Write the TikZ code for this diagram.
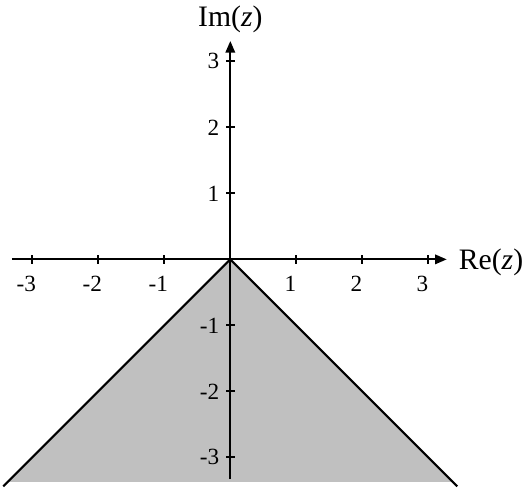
\documentclass[tikz,border=0pt]{standalone}
\usepackage{fontspec}
\setmainfont{Liberation Serif}
\usepackage{tikz}
\usetikzlibrary{arrows.meta}
\definecolor{relleno}{HTML}{C0C0C0}
\tikzset{
  axis/.style={-{Triangle[length=5pt,width=4pt]},line width=0.9pt,draw=black},
  tick/.style={line width=0.8pt,draw=black},
  edge/.style={line width=0.9pt,draw=black},
  ticklabel/.style={font=\fontsize{10}{11}\selectfont,inner sep=0pt},
  axislabel/.style={font=\fontsize{12.8}{15}\selectfont,inner sep=1pt}
}
\begin{document}
\begin{tikzpicture}[x=1cm,y=1cm]
\useasboundingbox (-3.49,-3.45) rectangle (4.45,3.93);

\fill[relleno] (0,0) -- (-3.37,-3.37) -- (3.37,-3.37) -- cycle;
\coordinate (o) at (0,0);
\coordinate (bl) at (-3.44,-3.44);
\coordinate (br) at (3.44,-3.44);
\draw[edge] (bl) -- (o) -- (br);

\draw[axis] (-3.31,0) -- (3.28,0);
\draw[axis] (0,-3.33) -- (0,3.31);

\foreach \k in {-3,-2,-1,1,2,3}{
  \draw[tick] (\k,-0.065) -- (\k,0.065);
  \node[ticklabel,anchor=north] at (\k-0.09,-0.25) {\k};
  \draw[tick] (-0.065,\k) -- (0.065,\k);
  \node[ticklabel,anchor=east] at (-0.16,\k) {\k};
}

\node[axislabel] (re) at (3.95,-0.04) {Re(\textit{z})};
\node[axislabel] (im) at (0,3.63) {Im(\textit{z})};
\end{tikzpicture}
\end{document}
